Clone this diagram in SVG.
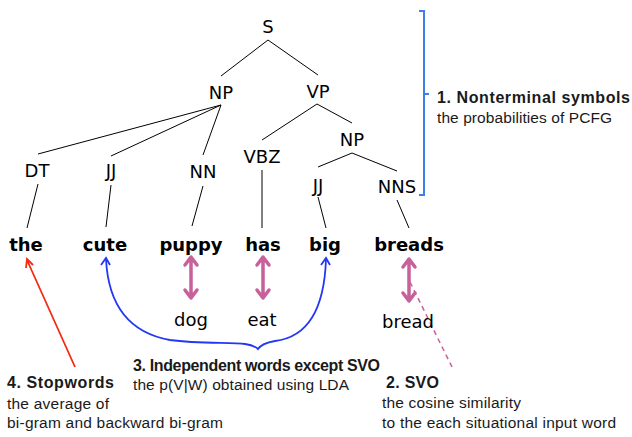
<svg xmlns="http://www.w3.org/2000/svg" width="632" height="437" viewBox="0 0 632 437">
<style>
.t{font-family:"DejaVu Sans",sans-serif;font-size:18px;fill:#000;text-anchor:middle}
.w{font-family:"DejaVu Sans",sans-serif;font-size:18px;font-weight:bold;fill:#000;text-anchor:middle}
.lb{font-family:"Liberation Sans",Arial,sans-serif;font-size:16px;font-weight:bold;fill:#1a1a1a}
.lr{font-family:"Liberation Sans",Arial,sans-serif;font-size:15.5px;fill:#1a1a1a}
.e{stroke:#000;stroke-width:1;fill:none}
.pk{stroke:#c8609a;stroke-width:3.5;fill:none;stroke-linecap:round;stroke-linejoin:round}
</style>
<rect width="632" height="437" fill="#fff"/>
<g id="connectors">
<path class="e" d="M268,40 L221,76 M268,40 L318,75"/>
<path class="e" d="M221,105 L38,154 M221,105 L111,156 M221,105 L203,155"/>
<path class="e" d="M317,104 L262,140 M317,104 L352,123"/>
<path class="e" d="M352,153 L318,167 M352,153 L397,171"/>
<path class="e" d="M38,184 L27,228 M111,185 L106,227 M203,186 L192,226 M262,170 L262,228 M318,197 L326,228 M397,200 L409,228"/>
<path class="pk" d="M191,258 V297 M185,265 L191,257 L197,265 M185,290 L191,298 L197,290"/>
<path class="pk" d="M263,258 V297 M257,265 L263,257 L269,265 M257,290 L263,298 L269,290"/>
<path class="pk" d="M409,260 V300 M403,267 L409,259 L415,267 M403,293 L409,301 L415,293"/>
<path d="M410,282 L452,367" stroke="#c8609a" stroke-width="1.5" stroke-dasharray="5,4" fill="none"/>
<path d="M106,259 C108,300 125,332 170,340 C200,344 232,342 245,344 C252,345 256,347 258,349 C260,346 264,343 275,341 C300,338 324,320 326,259" stroke="#2437f5" stroke-width="1.8" fill="none"/>
<path d="M101,265 L106,258 L110,265 M321,265 L326,258 L330,265" stroke="#2437f5" stroke-width="1.8" fill="none"/>
<path d="M75,367 L27,260 M26,268 L27,259 L33,265" stroke="#f52a10" stroke-width="1.8" fill="none"/>
<path d="M419,11 H424 V195 H419 M424,94 H429" stroke="#3b7fe8" stroke-width="2" fill="none"/>
</g>
<g id="n-S"><text class="t" x="268" y="33">S</text></g>
<g id="n-NP"><text class="t" x="221" y="99">NP</text></g>
<g id="n-VP"><text class="t" x="318" y="98">VP</text></g>
<g id="n-DT"><text class="t" x="37" y="177">DT</text></g>
<g id="n-JJ"><text class="t" x="111" y="177">JJ</text></g>
<g id="n-NN"><text class="t" x="203" y="178">NN</text></g>
<g id="n-VBZ"><text class="t" x="262" y="163">VBZ</text></g>
<g id="n-NP2"><text class="t" x="352" y="146">NP</text></g>
<g id="n-JJ2"><text class="t" x="318" y="192">JJ</text></g>
<g id="n-NNS"><text class="t" x="397" y="193">NNS</text></g>
<g id="w-the"><text class="w" x="26" y="251">the</text></g>
<g id="w-cute"><text class="w" x="105" y="251">cute</text></g>
<g id="w-puppy"><text class="w" x="191" y="251">puppy</text></g>
<g id="w-has"><text class="w" x="263" y="251">has</text></g>
<g id="w-big"><text class="w" x="325" y="251">big</text></g>
<g id="w-breads"><text class="w" x="409" y="251">breads</text></g>
<g id="w-dog"><text class="t" x="191" y="326">dog</text></g>
<g id="w-eat"><text class="t" x="262" y="326">eat</text></g>
<g id="w-bread"><text class="t" x="408" y="328">bread</text></g>
<g id="label-1">
<text class="lb" x="437" y="103" textLength="193">1. Nonterminal symbols</text>
<text class="lr" x="437" y="123" textLength="175">the probabilities of PCFG</text>
</g>
<g id="label-2">
<text class="lb" x="386" y="388" textLength="53">2. SVO</text>
<text class="lr" x="382" y="408" textLength="139">the cosine similarity</text>
<text class="lr" x="382" y="428" textLength="234">to the each situational input word</text>
</g>
<g id="label-3">
<text class="lb" x="133" y="371" textLength="247">3. Independent words except SVO</text>
<text class="lr" x="133" y="390" textLength="216">the p(V|W) obtained using LDA</text>
</g>
<g id="label-4">
<text class="lb" x="7" y="388" textLength="107">4. Stopwords</text>
<text class="lr" x="7" y="409" textLength="102">the average of</text>
<text class="lr" x="7" y="428" textLength="216">bi-gram and backward bi-gram</text>
</g>
</svg>
